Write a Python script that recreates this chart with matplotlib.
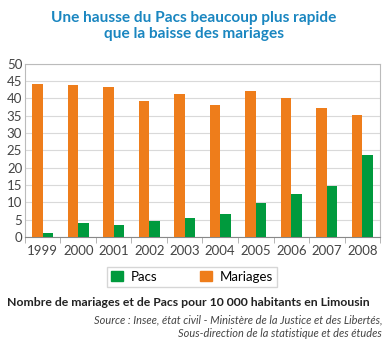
import numpy as np
import matplotlib.pyplot as plt
from matplotlib.patches import Patch

years = ['1999', '2000', '2001', '2002', '2003', '2004', '2005', '2006', '2007', '2008']
mariages = [44.2, 44.0, 43.2, 39.3, 41.3, 38.2, 42.3, 40.2, 37.3, 35.3]
pacs = [1.1, 3.9, 3.6, 4.6, 5.4, 6.6, 9.9, 12.3, 14.7, 23.7]

orange = '#ee7d1b'
green = '#009a3d'
blue = '#1a86c0'
plt.rcParams['font.family'] = ['Lato', 'DejaVu Sans']

fig = plt.figure(figsize=(3.88, 3.47), dpi=100)
ax = fig.add_axes([0.0644, 0.317, 0.915, 0.499])

x = np.arange(len(years))
w = 0.3
ax.bar(x - w / 2, mariages, w, color=orange, zorder=3)
ax.bar(x + w / 2, pacs, w, color=green, zorder=3)

ax.set_xlim(-0.5, len(years) - 0.5)
ax.set_ylim(0, 50)
ax.set_yticks(range(0, 51, 5))
ax.set_xticks(x)
ax.set_xticklabels(years)
ax.set_xticks(np.arange(-0.5, len(years), 1), minor=True)
ax.tick_params(axis='x', which='major', length=0, labelsize=9.5, colors='#444444', pad=6)
ax.tick_params(axis='x', which='minor', length=4, color='#aaaaaa')
ax.tick_params(axis='y', length=0, labelsize=9.5, colors='#444444', pad=2)
ax.grid(axis='y', color='#d9d9d9', linewidth=0.8, zorder=0)
for s in ax.spines.values():
    s.set_color('#bbbbbb')
    s.set_linewidth(0.8)
ax.spines['bottom'].set_color('#888888')

fig.text(0.5, 0.968, 'Une hausse du Pacs beaucoup plus rapide\nque la baisse des mariages',
         ha='center', va='top', color=blue, fontsize=11.1, fontweight='bold', linespacing=1.2)

handles = [Patch(color=green, label='Pacs'), Patch(color=orange, label='Mariages')]
fig.legend(handles=handles, loc='center', bbox_to_anchor=(0.495, 0.202), ncol=2,
           fontsize=9.5, frameon=True, fancybox=False, edgecolor='#cccccc',
           handlelength=0.9, handleheight=0.8, columnspacing=3.2, handletextpad=0.6,
           borderpad=0.3)

fig.text(0.018, 0.127, 'Nombre de mariages et de Pacs pour 10 000 habitants en Limousin',
         ha='left', va='center', fontsize=8.8, fontweight='bold', color='#222222')
fig.text(0.985, 0.058, 'Source : Insee, état civil - Ministère de la Justice et des Libertés,\n'
         'Sous-direction de la statistique et des études',
         ha='right', va='center', fontsize=7.9, style='italic', color='#444444',
         multialignment='right', linespacing=1.25)

fig.savefig('out.png', dpi=100)
